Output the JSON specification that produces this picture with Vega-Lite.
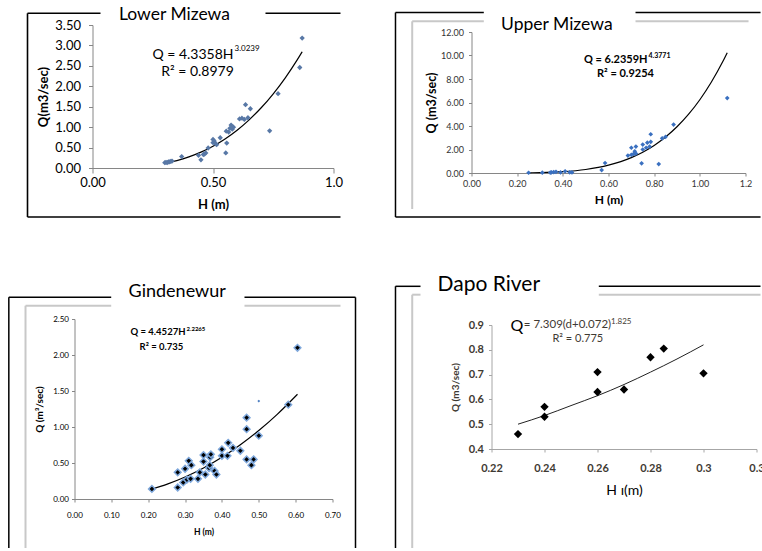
{
  "$schema": "https://vega.github.io/schema/vega-lite/v6.json",
  "background": "white",
  "autosize": {"type": "pad"},
  "padding": {"left": 7.5, "top": 5, "right": 0, "bottom": 0},
  "config": {
    "view": {"stroke": null},
    "font": "Lato",
    "axis": {"grid": false, "tickCount": 50, "labelOverlap": false, "labelFlush": false, "domainColor": "#868686", "tickColor": "#868686", "labelColor": "#000000", "titleColor": "#000000", "labelFont": "Lato", "titleFont": "Lato"}
  },
  "datasets": {
    "lower_obs": [
      {"H":0.30,"Q":0.13},{"H":0.305,"Q":0.14},{"H":0.31,"Q":0.13},{"H":0.315,"Q":0.15},{"H":0.32,"Q":0.15},{"H":0.325,"Q":0.16},{"H":0.33,"Q":0.17},
      {"H":0.37,"Q":0.28},{"H":0.44,"Q":0.31},{"H":0.45,"Q":0.20},{"H":0.46,"Q":0.33},{"H":0.465,"Q":0.34},{"H":0.47,"Q":0.37},{"H":0.48,"Q":0.49},
      {"H":0.50,"Q":0.62},{"H":0.50,"Q":0.70},{"H":0.505,"Q":0.66},{"H":0.51,"Q":0.60},{"H":0.515,"Q":0.57},{"H":0.53,"Q":0.74},
      {"H":0.553,"Q":0.37},{"H":0.557,"Q":0.61},{"H":0.555,"Q":0.90},{"H":0.565,"Q":0.88},{"H":0.57,"Q":0.97},{"H":0.575,"Q":1.05},{"H":0.58,"Q":0.95},{"H":0.585,"Q":1.00},
      {"H":0.61,"Q":1.20},{"H":0.62,"Q":1.22},{"H":0.63,"Q":1.19},{"H":0.635,"Q":1.55},{"H":0.645,"Q":1.23},{"H":0.655,"Q":1.45},
      {"H":0.735,"Q":0.91},{"H":0.77,"Q":1.82},{"H":0.86,"Q":2.46},{"H":0.87,"Q":3.18}
    ],
    "lower_fit": [
      {"H":0.30,"Q":0.114},{"H":0.35,"Q":0.181},{"H":0.40,"Q":0.272},{"H":0.45,"Q":0.388},{"H":0.50,"Q":0.533},{"H":0.55,"Q":0.711},{"H":0.60,"Q":0.925},
      {"H":0.65,"Q":1.179},{"H":0.70,"Q":1.474},{"H":0.75,"Q":1.817},{"H":0.80,"Q":2.208},{"H":0.85,"Q":2.652},{"H":0.87,"Q":2.846}
    ],
    "upper_obs": [
      {"H":0.25,"Q":0.02},{"H":0.31,"Q":0.03},{"H":0.345,"Q":0.04},{"H":0.35,"Q":0.06},{"H":0.36,"Q":0.08},{"H":0.37,"Q":0.1},{"H":0.39,"Q":0.05},{"H":0.41,"Q":0.14},{"H":0.43,"Q":0.06},{"H":0.44,"Q":0.05},
      {"H":0.57,"Q":0.25},{"H":0.585,"Q":0.85},{"H":0.685,"Q":1.48},{"H":0.70,"Q":1.55},{"H":0.70,"Q":2.15},{"H":0.71,"Q":1.62},{"H":0.715,"Q":1.85},{"H":0.72,"Q":2.25},{"H":0.72,"Q":1.65},
      {"H":0.745,"Q":0.82},{"H":0.75,"Q":2.0},{"H":0.75,"Q":2.42},{"H":0.765,"Q":2.15},{"H":0.77,"Q":2.58},{"H":0.78,"Q":2.25},{"H":0.785,"Q":3.3},{"H":0.785,"Q":2.65},
      {"H":0.82,"Q":0.76},{"H":0.835,"Q":2.95},{"H":0.85,"Q":3.08},{"H":0.885,"Q":4.12},{"H":1.12,"Q":6.38}
    ],
    "upper_fit": [
      {"H":0.25,"Q":0.014},{"H":0.30,"Q":0.032},{"H":0.40,"Q":0.113},{"H":0.50,"Q":0.300},{"H":0.60,"Q":0.667},{"H":0.70,"Q":1.309},{"H":0.75,"Q":1.770},
      {"H":0.80,"Q":2.348},{"H":0.85,"Q":3.062},{"H":0.90,"Q":3.932},{"H":0.95,"Q":4.982},{"H":1.00,"Q":6.236},{"H":1.05,"Q":7.721},{"H":1.10,"Q":9.464},{"H":1.12,"Q":10.241}
    ],
    "gind_obs": [
      {"H":0.21,"Q":0.14},{"H":0.28,"Q":0.16},{"H":0.28,"Q":0.37},{"H":0.295,"Q":0.23},{"H":0.30,"Q":0.42},{"H":0.305,"Q":0.27},{"H":0.31,"Q":0.53},{"H":0.315,"Q":0.28},{"H":0.317,"Q":0.47},
      {"H":0.335,"Q":0.28},{"H":0.34,"Q":0.37},{"H":0.35,"Q":0.52},{"H":0.35,"Q":0.61},{"H":0.355,"Q":0.34},{"H":0.365,"Q":0.43},{"H":0.367,"Q":0.47},{"H":0.368,"Q":0.58},{"H":0.37,"Q":0.62},{"H":0.38,"Q":0.39},{"H":0.385,"Q":0.34},
      {"H":0.40,"Q":0.60},{"H":0.40,"Q":0.69},{"H":0.415,"Q":0.60},{"H":0.417,"Q":0.78},{"H":0.43,"Q":0.71},{"H":0.45,"Q":0.67},
      {"H":0.467,"Q":0.55},{"H":0.467,"Q":0.97},{"H":0.467,"Q":1.13},{"H":0.48,"Q":0.47},{"H":0.486,"Q":0.55},{"H":0.50,"Q":0.88},{"H":0.58,"Q":1.31},{"H":0.605,"Q":2.10}
    ],
    "gind_small": [{"H":0.50,"Q":1.36}],
    "gind_fit": [
      {"H":0.21,"Q":0.138},{"H":0.25,"Q":0.203},{"H":0.30,"Q":0.305},{"H":0.35,"Q":0.430},{"H":0.40,"Q":0.579},{"H":0.45,"Q":0.753},{"H":0.50,"Q":0.951},{"H":0.55,"Q":1.176},{"H":0.605,"Q":1.455}
    ],
    "dapo_obs": [
      {"H":0.23,"Q":0.46},{"H":0.24,"Q":0.57},{"H":0.24,"Q":0.53},{"H":0.26,"Q":0.71},{"H":0.26,"Q":0.63},{"H":0.27,"Q":0.64},{"H":0.28,"Q":0.77},{"H":0.285,"Q":0.805},{"H":0.30,"Q":0.705}
    ],
    "dapo_fit": [
      {"H":0.23,"Q":0.50},{"H":0.24,"Q":0.535},{"H":0.25,"Q":0.575},{"H":0.26,"Q":0.615},{"H":0.27,"Q":0.66},{"H":0.28,"Q":0.71},{"H":0.29,"Q":0.763},{"H":0.30,"Q":0.82}
    ]
  },
  "columns": 2,
  "bounds": "flush",
  "align": "each",
  "spacing": {"row": 146, "column": 138},
  "concat": [
    {
      "width": 259, "height": 143,
      "layer": [
        {"data":{"values":[{}]},"mark":{"type":"rule","color":"#000000","strokeWidth":1.6},"encoding":{"x":{"datum":-0.2697},"x2":{"datum":0.0332},"y":{"datum":3.786}}},
        {"data":{"values":[{}]},"mark":{"type":"rule","color":"#000000","strokeWidth":1.6},"encoding":{"x":{"datum":0.7178},"x2":{"datum":1.029},"y":{"datum":3.786}}},
        {"data":{"values":[{}]},"mark":{"type":"rule","color":"#000000","strokeWidth":1.6},"encoding":{"x":{"datum":-0.2697},"y":{"datum":3.786},"y2":{"datum":-1.199}}},
        {"data":{"values":[{}]},"mark":{"type":"rule","color":"#000000","strokeWidth":1.6},"encoding":{"x":{"datum":-0.2697},"x2":{"datum":1.029},"y":{"datum":-1.199}}},
        {"data":{"name":"lower_fit"},"mark":{"type":"line","color":"#000000","strokeWidth":1.2,"interpolate":"monotone"},"encoding":{"x":{"field":"H","type":"quantitative"},"y":{"field":"Q","type":"quantitative"}}},
        {
          "data":{"name":"lower_obs"},
          "mark":{"type":"point","shape":"diamond","filled":true,"color":"#5878a6","size":28,"opacity":1},
          "encoding":{
            "x":{"field":"H","type":"quantitative","scale":{"domain":[0,1],"range":[18,259],"nice":false,"zero":false},
              "axis":{"values":[0,0.5,1],"tickCount":50,"labelOverlap":false,"labelExpr":"datum.value == 1 ? '1.0' : format(datum.value, '.2f')","title":"H (m)","titleFontSize":13,"titleFontWeight":"bold","labelFontSize":13,"tickSize":5,"labelPadding":3,"titlePadding":9}},
            "y":{"field":"Q","type":"quantitative","scale":{"domain":[0,3.5],"nice":false,"zero":false},
              "axis":{"values":[0,0.5,1,1.5,2,2.5,3,3.5],"tickCount":50,"labelOverlap":false,"labelExpr":"format(datum.value, '.2f')","offset":-18,"title":"Q(m3/sec)","titleFontSize":13,"titleFontWeight":"bold","labelFontSize":13,"tickSize":4,"labelPadding":8,"titlePadding":4}}
          }
        },
        {"data":{"values":[{}]},"mark":{"type":"text","text":"Q = 4.3358H","align":"right","baseline":"middle","fontSize":14,"font":"Lato"},"encoding":{"x":{"datum":0.5851},"y":{"datum":2.766}}},
        {"data":{"values":[{}]},"mark":{"type":"text","text":"3.0239","align":"left","baseline":"middle","fontSize":8,"font":"Lato"},"encoding":{"x":{"datum":0.5892},"y":{"datum":2.912}}},
        {"data":{"values":[{}]},"mark":{"type":"text","text":"R² = 0.8979","align":"center","baseline":"middle","fontSize":14,"font":"Lato"},"encoding":{"x":{"datum":0.4357},"y":{"datum":2.34}}},
        {"data":{"values":[{}]},"mark":{"type":"text","text":"Lower Mizewa","align":"center","baseline":"alphabetic","fontSize":17.5,"font":"Lato"},"encoding":{"x":{"datum":0.340},"y":{"datum":3.6295}}}
      ]
    },
    {
      "width": 274, "height": 148,
      "layer": [
        {"data":{"values":[{}]},"mark":{"type":"rule","color":"#c8c8c8","strokeWidth":2},"encoding":{"x":{"datum":-0.2597},"x2":{"datum":0.0539},"y":{"datum":12.91}}},
        {"data":{"values":[{}]},"mark":{"type":"rule","color":"#c8c8c8","strokeWidth":2},"encoding":{"x":{"datum":0.7183},"x2":{"datum":1.2133},"y":{"datum":12.91}}},
        {"data":{"values":[{}]},"mark":{"type":"rule","color":"#c8c8c8","strokeWidth":2},"encoding":{"x":{"datum":-0.2597},"y":{"datum":12.91},"y2":{"datum":-3.064}}},
        {"data":{"values":[{}]},"mark":{"type":"rule","color":"#000000","strokeWidth":1.5},"encoding":{"x":{"datum":-0.3329},"x2":{"datum":0.0539},"y":{"datum":13.66}}},
        {"data":{"values":[{}]},"mark":{"type":"rule","color":"#000000","strokeWidth":1.5},"encoding":{"x":{"datum":0.7183},"x2":{"datum":1.2659},"y":{"datum":13.66}}},
        {"data":{"values":[{}]},"mark":{"type":"rule","color":"#000000","strokeWidth":1.5},"encoding":{"x":{"datum":-0.3329},"y":{"datum":13.66},"y2":{"datum":-3.745}}},
        {"data":{"values":[{}]},"mark":{"type":"rule","color":"#000000","strokeWidth":1.5},"encoding":{"x":{"datum":-0.3329},"x2":{"datum":1.2659},"y":{"datum":-3.745}}},
        {"data":{"name":"upper_fit"},"mark":{"type":"line","color":"#000000","strokeWidth":1.2,"interpolate":"monotone"},"encoding":{"x":{"field":"H","type":"quantitative"},"y":{"field":"Q","type":"quantitative"}}},
        {
          "data":{"name":"upper_obs"},
          "mark":{"type":"point","shape":"diamond","filled":true,"color":"#3a70c0","size":22,"opacity":1},
          "encoding":{
            "x":{"field":"H","type":"quantitative","scale":{"domain":[0,1.2],"nice":false,"zero":false},
              "axis":{"values":[0,0.2,0.4,0.6,0.8,1.0,1.2],"tickCount":50,"labelOverlap":false,"labelExpr":"datum.value > 1.1 ? '1.2' : format(datum.value, '.2f')","title":"H (m)","titleFontSize":12,"titleFontWeight":"bold","labelFontSize":9,"labelColor":"#333333","tickSize":3,"labelPadding":3,"titlePadding":6}},
            "y":{"field":"Q","type":"quantitative","scale":{"domain":[0,12],"range":[148,7],"nice":false,"zero":false},
              "axis":{"values":[0,2,4,6,8,10,12],"tickCount":50,"labelOverlap":false,"labelExpr":"format(datum.value, '.2f')","title":"Q (m3/sec)","titleFontSize":12.5,"titleFontWeight":"bold","labelFontSize":9,"labelColor":"#333333","tickSize":3,"labelPadding":5,"titlePadding":2}}
          }
        },
        {"data":{"values":[{}]},"mark":{"type":"text","text":"Q = 6.2359H","align":"right","baseline":"middle","fontSize":11,"fontWeight":"bold","font":"Lato"},"encoding":{"x":{"datum":0.7709},"y":{"datum":9.617}}},
        {"data":{"values":[{}]},"mark":{"type":"text","text":"4.3771","align":"left","baseline":"middle","fontSize":7,"fontWeight":"bold","font":"Lato"},"encoding":{"x":{"datum":0.7753},"y":{"datum":9.95}}},
        {"data":{"values":[{}]},"mark":{"type":"text","text":"R² = 0.9254","align":"center","baseline":"middle","fontSize":11,"fontWeight":"bold","font":"Lato"},"encoding":{"x":{"datum":0.6745},"y":{"datum":8.426}}},
        {"data":{"values":[{}]},"mark":{"type":"text","text":"Upper Mizewa","align":"center","baseline":"alphabetic","fontSize":17.5,"font":"Lato"},"encoding":{"x":{"datum":0.3737},"y":{"datum":12.196}}}
      ]
    },
    {
      "width": 258, "height": 180,
      "layer": [
        {"data":{"values":[{}]},"mark":{"type":"rule","color":"#c8c8c8","strokeWidth":2},"encoding":{"x":{"datum":-0.1329},"x2":{"datum":0.0996},"y":{"datum":2.685}}},
        {"data":{"values":[{}]},"mark":{"type":"rule","color":"#c8c8c8","strokeWidth":2},"encoding":{"x":{"datum":0.4612},"x2":{"datum":0.7217},"y":{"datum":2.685}}},
        {"data":{"values":[{}]},"mark":{"type":"rule","color":"#c8c8c8","strokeWidth":2},"encoding":{"x":{"datum":-0.1329},"y":{"datum":2.685},"y2":{"datum":-0.6806}}},
        {"data":{"values":[{}]},"mark":{"type":"rule","color":"#000000","strokeWidth":1.5},"encoding":{"x":{"datum":-0.1782},"x2":{"datum":0.0996},"y":{"datum":2.801}}},
        {"data":{"values":[{}]},"mark":{"type":"rule","color":"#000000","strokeWidth":1.5},"encoding":{"x":{"datum":0.4612},"x2":{"datum":0.7624},"y":{"datum":2.801}}},
        {"data":{"values":[{}]},"mark":{"type":"rule","color":"#000000","strokeWidth":1.5},"encoding":{"x":{"datum":-0.1782},"y":{"datum":2.801},"y2":{"datum":-0.6806}}},
        {"data":{"values":[{}]},"mark":{"type":"rule","color":"#000000","strokeWidth":1.5},"encoding":{"x":{"datum":0.7624},"y":{"datum":2.801},"y2":{"datum":-0.6806}}},
        {"data":{"name":"gind_fit"},"mark":{"type":"line","color":"#000000","strokeWidth":1.2,"interpolate":"monotone"},"encoding":{"x":{"field":"H","type":"quantitative"},"y":{"field":"Q","type":"quantitative"}}},
        {
          "data":{"name":"gind_obs"},
          "mark":{"type":"point","shape":"diamond","filled":true,"color":"#000000","stroke":"#7fa8dc","strokeWidth":1.5,"size":45,"opacity":1},
          "encoding":{
            "x":{"field":"H","type":"quantitative","scale":{"domain":[0,0.7],"nice":false,"zero":false},
              "axis":{"values":[0,0.1,0.2,0.3,0.4,0.5,0.6,0.7],"tickCount":50,"labelOverlap":false,"labelExpr":"format(datum.value, '.2f')","title":"H (m)","titleFontSize":8.5,"titleFontWeight":"bold","labelFontSize":8,"tickSize":3,"labelPadding":9,"titlePadding":8}},
            "y":{"field":"Q","type":"quantitative","scale":{"domain":[0,2.5],"nice":false,"zero":false},
              "axis":{"values":[0,0.5,1,1.5,2,2.5],"tickCount":50,"labelOverlap":false,"labelExpr":"format(datum.value, '.2f')","title":"Q (m³/sec)","titleFontSize":10,"titleFontWeight":"bold","labelFontSize":8,"tickSize":3,"labelPadding":3,"titlePadding":8}}
          }
        },
        {"data":{"name":"gind_small"},"mark":{"type":"point","shape":"diamond","filled":true,"color":"#4a7cc0","size":8,"opacity":1},"encoding":{"x":{"field":"H","type":"quantitative"},"y":{"field":"Q","type":"quantitative"}}},
        {"data":{"values":[{}]},"mark":{"type":"text","text":"Q = 4.4527H","align":"right","baseline":"middle","fontSize":9.5,"fontWeight":"bold","font":"Lato"},"encoding":{"x":{"datum":0.3011},"y":{"datum":2.315}}},
        {"data":{"values":[{}]},"mark":{"type":"text","text":"2.2265","align":"left","baseline":"middle","fontSize":6,"fontWeight":"bold","font":"Lato"},"encoding":{"x":{"datum":0.3039},"y":{"datum":2.361}}},
        {"data":{"values":[{}]},"mark":{"type":"text","text":"R² = 0.735","align":"center","baseline":"middle","fontSize":9.5,"fontWeight":"bold","font":"Lato"},"encoding":{"x":{"datum":0.236},"y":{"datum":2.111}}},
        {"data":{"values":[{}]},"mark":{"type":"text","text":"Gindenewur","align":"center","baseline":"alphabetic","fontSize":18,"font":"Lato"},"encoding":{"x":{"datum":0.2786},"y":{"datum":2.801}}}
      ]
    },
    {
      "width": 285, "height": 130,
      "layer": [
        {"data":{"values":[{}]},"mark":{"type":"rule","color":"#c8c8c8","strokeWidth":2},"encoding":{"x":{"datum":0.19008},"x2":{"datum":0.19321},"y":{"datum":1.0222}}},
        {"data":{"values":[{}]},"mark":{"type":"rule","color":"#c8c8c8","strokeWidth":2},"encoding":{"x":{"datum":0.26049},"x2":{"datum":0.32151},"y":{"datum":1.0222}}},
        {"data":{"values":[{}]},"mark":{"type":"rule","color":"#c8c8c8","strokeWidth":2},"encoding":{"x":{"datum":0.19008},"y":{"datum":1.0222},"y2":{"datum":0.0008}}},
        {"data":{"values":[{}]},"mark":{"type":"rule","color":"#000000","strokeWidth":1.5},"encoding":{"x":{"datum":0.18377},"x2":{"datum":0.19321},"y":{"datum":1.056}}},
        {"data":{"values":[{}]},"mark":{"type":"rule","color":"#000000","strokeWidth":1.5},"encoding":{"x":{"datum":0.26049},"x2":{"datum":0.32151},"y":{"datum":1.056}}},
        {"data":{"values":[{}]},"mark":{"type":"rule","color":"#000000","strokeWidth":1.5},"encoding":{"x":{"datum":0.18377},"y":{"datum":1.056},"y2":{"datum":0.0008}}},
        {"data":{"name":"dapo_fit"},"mark":{"type":"line","color":"#222222","strokeWidth":1,"interpolate":"monotone"},"encoding":{"x":{"field":"H","type":"quantitative"},"y":{"field":"Q","type":"quantitative"}}},
        {
          "data":{"name":"dapo_obs"},
          "mark":{"type":"point","shape":"diamond","filled":true,"color":"#000000","size":70,"opacity":1},
          "encoding":{
            "x":{"field":"H","type":"quantitative","scale":{"domain":[0.22,0.32],"range":[20,285],"nice":false,"zero":false},
              "axis":{"values":[0.22,0.24,0.26,0.28,0.3,0.32],"tickCount":50,"labelOverlap":false,"labelExpr":"datum.value > 0.31 ? '0.3' : format(datum.value, '~g')","title":"H ı(m)","titleFontSize":14,"titleFontWeight":"normal","labelFontSize":11,"labelFontWeight":"bold","labelColor":"#3f3a33","domainColor":"#a6a6a6","tickColor":"#a6a6a6","tickSize":3,"labelPadding":10,"titlePadding":10}},
            "y":{"field":"Q","type":"quantitative","scale":{"domain":[0.4,0.9],"range":[130,6],"nice":false,"zero":false},
              "axis":{"values":[0.4,0.5,0.6,0.7,0.8,0.9],"tickCount":50,"labelOverlap":false,"labelExpr":"format(datum.value, '.1f')","offset":-20,"title":"Q (m3/sec)","titleFontSize":10,"titleFontWeight":"bold","titleColor":"#3f3a33","labelFontSize":11,"labelFontWeight":"bold","labelColor":"#3f3a33","domainColor":"#a6a6a6","tickColor":"#a6a6a6","tickSize":3,"labelPadding":5,"titlePadding":8}}
          }
        },
        {"data":{"values":[{}]},"mark":{"type":"text","text":"Q","align":"left","baseline":"middle","fontSize":16,"font":"Lato"},"encoding":{"x":{"datum":0.2272},"y":{"datum":0.8972}}},
        {"data":{"values":[{}]},"mark":{"type":"text","text":"= 7.309(d+0.072)","align":"left","baseline":"middle","fontSize":11.5,"font":"Lato","color":"#3f3a33"},"encoding":{"x":{"datum":0.2322},"y":{"datum":0.9012}}},
        {"data":{"values":[{}]},"mark":{"type":"text","text":"1.825","align":"left","baseline":"middle","fontSize":8,"font":"Lato","color":"#3f3a33"},"encoding":{"x":{"datum":0.2651},"y":{"datum":0.9133}}},
        {"data":{"values":[{}]},"mark":{"type":"text","text":"R² = 0.775","align":"center","baseline":"middle","fontSize":11,"font":"Lato","color":"#3f3a33"},"encoding":{"x":{"datum":0.25257},"y":{"datum":0.8435}}},
        {"data":{"values":[{}]},"mark":{"type":"text","text":"Dapo River","align":"center","baseline":"alphabetic","fontSize":21,"font":"Lato"},"encoding":{"x":{"datum":0.21898},"y":{"datum":1.0383}}}
      ]
    }
  ]
}
